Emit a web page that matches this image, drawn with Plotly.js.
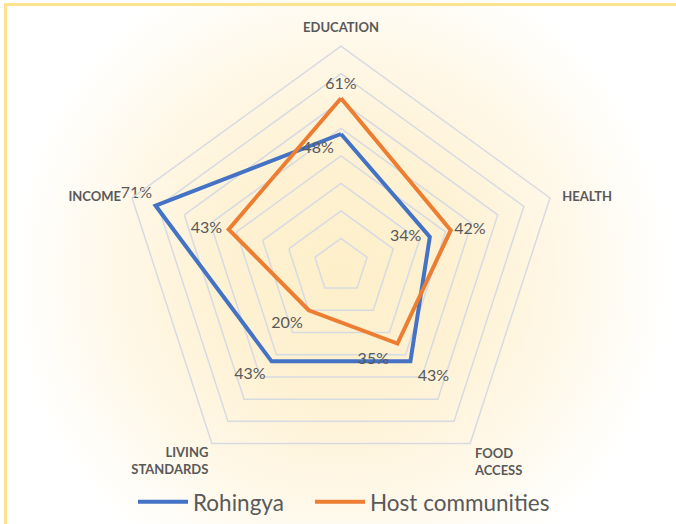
<!DOCTYPE html>
<html>
<head>
<meta charset="utf-8">
<script src="https://cdn.plot.ly/plotly-3.0.1.min.js"></script>
<style>
  html, body { margin: 0; padding: 0; background: #ffffff; }
  #wrap { position: relative; width: 676px; height: 524px; overflow: hidden;
    background: radial-gradient(circle 360px at 341px 275px, #fdefc9 0%, #fef2d4 35%, #fff8e8 62%, #ffffff 92%); }
  #frame { position: absolute; left: 4px; top: 3px; width: 700px; height: 560px;
    border-top: 3px solid #fde38e; border-left: 3px solid #fde38e; pointer-events: none; }
  #chart { position: absolute; left: 0; top: 0; width: 676px; height: 524px; }
</style>
</head>
<body>
<div id="wrap">
  <div id="chart"></div>
  <div id="frame"></div>
</div>
<script>
const categories = ["EDUCATION", "HEALTH", "FOOD<br>ACCESS", "LIVING<br>STANDARDS", "INCOME"];
const rohingya = [48, 34, 43, 43, 71];
const host = [61, 42, 35, 20, 43];
const seriesNames = ["Rohingya", "Host communities"];
const radialMax = 80;
const gridTicks = [10, 20, 30, 40, 50, 60, 70];

// label placement (style only)
const rohingyaLabelPos = ["bottom left", "middle left", "bottom right", "bottom left", "top left"];
const rohingyaLabelGap = [10, 12, 10, 8, 4];
const hostLabelPos = ["top center", "middle right", "bottom left", "bottom left", "middle left"];
const hostLabelGap = [7, 4, 12, 8, 9];
const categoryLabelPos = ["top center", "middle right", "bottom right", "bottom left", "middle left"];
const categoryLabelGap = [15, 18, 6, 4, 16];

function closed(arr) { return arr.concat([arr[0]]); }
function labels(arr) { return arr.map(v => v + "%").concat([""]); }

const FONT = "Lato, 'Open Sans', sans-serif";
const labelFont = { family: FONT, size: 16, color: "#595959" };
const hiddenMarker = (sizes) => ({ size: sizes, color: "rgba(0,0,0,0)", opacity: 0, line: { width: 0, color: "rgba(0,0,0,0)" } });

const traces = [
  {
    type: "scatterpolar", mode: "lines+markers+text", name: seriesNames[0], legend: "legend",
    r: closed(rohingya), theta: closed(categories),
    text: labels(rohingya), textposition: closed(rohingyaLabelPos),
    textfont: labelFont,
    marker: hiddenMarker(closed(rohingyaLabelGap)),
    line: { color: "#4472C4", width: 4 }, cliponaxis: false, hoverinfo: "skip"
  },
  {
    type: "scatterpolar", mode: "lines+markers+text", name: seriesNames[1], legend: "legend2",
    r: closed(host), theta: closed(categories),
    text: labels(host), textposition: closed(hostLabelPos),
    textfont: labelFont,
    marker: hiddenMarker(closed(hostLabelGap)),
    line: { color: "#ED7D31", width: 4 }, cliponaxis: false, hoverinfo: "skip"
  },
  {
    type: "scatterpolar", mode: "markers+text", showlegend: false,
    r: categories.map(() => radialMax), theta: categories,
    text: categories, textposition: categoryLabelPos,
    textfont: { family: FONT, size: 13, color: "#595959", weight: "bold" },
    marker: hiddenMarker(categoryLabelGap),
    cliponaxis: false, hoverinfo: "skip"
  }
];

const W = 676, H = 524, cx = 341, cy = 271, R = 224;
const legendBase = {
  orientation: "h", xanchor: "left", y: (H - 512) / H, yanchor: "middle",
  font: { family: FONT, size: 22.5, color: "#595959" },
  bgcolor: "rgba(0,0,0,0)", itemwidth: 50
};
const layout = {
  width: W, height: H,
  margin: { l: 0, r: 0, t: 0, b: 0 },
  paper_bgcolor: "rgba(0,0,0,0)",
  plot_bgcolor: "rgba(0,0,0,0)",
  font: { family: FONT, color: "#595959" },
  showlegend: true,
  legend: Object.assign({}, legendBase, { x: 133 / W }),
  legend2: Object.assign({}, legendBase, { x: 310 / W }),
  polar: {
    domain: { x: [(cx - R) / W, (cx + R) / W], y: [(H - cy - R) / H, (H - cy + R) / H] },
    bgcolor: "rgba(0,0,0,0)",
    gridshape: "linear",
    radialaxis: {
      range: [0, radialMax], tickvals: gridTicks, showticklabels: false, ticks: "",
      showline: false, showgrid: true, gridcolor: "#d7dae2", gridwidth: 1.5
    },
    angularaxis: {
      direction: "clockwise", rotation: 90, showgrid: false,
      ticks: "", showticklabels: false,
      showline: true, linecolor: "#d7dae2", linewidth: 1.5
    }
  }
};

Plotly.newPlot("chart", traces, layout, { displayModeBar: false, staticPlot: true });
</script>
</body>
</html>
